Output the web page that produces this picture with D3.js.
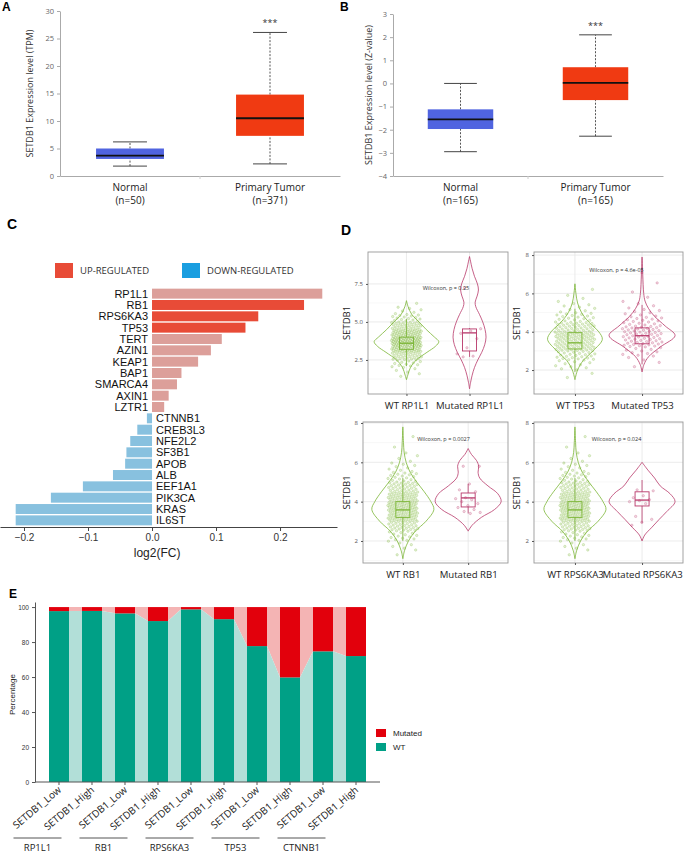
<!DOCTYPE html>
<html lang="en">
<head>
<meta charset="UTF-8">
<title>SETDB1 figure</title>
<script src="https://cdn.jsdelivr.net/npm/d3@7"></script>
<style>
  body { margin: 0; background: #fff; }
  svg text { font-family: "Open Sans", sans-serif; }
</style>
</head>
<body>
<div id="chart"></div>
<script>
  // ---------- data ----------
  // A / B : box plots, stats are [min, q1, median, q3, max]
  const BOX_GROUPS = ['Normal', 'Primary Tumor'];
  const A_COUNTS = ['(n=50)', '(n=371)'];
  const A_STATS = [[1.8, 3.1, 3.7, 5.0, 6.2], [2.2, 7.3, 10.5, 14.8, 26.1]];
  const B_COUNTS = ['(n=165)', '(n=165)'];
  const B_STATS = [[-2.95, -1.97, -1.55, -1.12, 0.0], [-2.28, -0.72, 0.02, 0.70, 2.10]];

  // C : log2 fold change
  const GENES = ['RP1L1', 'RB1', 'RPS6KA3', 'TP53', 'TERT', 'AZIN1', 'KEAP1', 'BAP1', 'SMARCA4', 'AXIN1', 'LZTR1',
    'CTNNB1', 'CREB3L3', 'NFE2L2', 'SF3B1', 'APOB', 'ALB', 'EEF1A1', 'PIK3CA', 'KRAS', 'IL6ST'];
  const LOG2FC = [0.266, 0.2375, 0.166, 0.146, 0.109, 0.092, 0.072, 0.046, 0.039, 0.026, 0.019,
    -0.008, -0.023, -0.034, -0.040, -0.042, -0.061, -0.108, -0.158, -0.213, -0.213];
  const HIGHLIGHT = ['RB1', 'RPS6KA3', 'TP53'];

  // D : violins (profile = [value, relative density])
  const D_GENES = ['RP1L1', 'TP53', 'RB1', 'RPS6KA3'];
  const D_PVALUES = ['0.25', '4.6e-05', '0.0027', '0.024'];
  const D_N_WT = [230, 180, 230, 230];
  const D_N_MUT = [9, 100, 16, 12];
  const D_WT_PROFILES = [
    [[1.2, 0], [1.5, 0.04], [2.0, 0.12], [2.5, 0.3], [3.0, 0.62], [3.4, 0.88], [3.7, 0.98], [4.0, 0.85], [4.5, 0.6], [5.0, 0.38], [5.5, 0.16], [6.0, 0.05], [6.4, 0]],
    [[1.5, 0], [2.0, 0.08], [2.5, 0.25], [3.0, 0.55], [3.6, 0.83], [4.0, 0.72], [4.5, 0.42], [5.0, 0.2], [5.5, 0.08], [6.0, 0.03], [6.5, 0]],
    [[1.1, 0], [1.5, 0.05], [2.0, 0.17], [2.5, 0.38], [3.0, 0.7], [3.6, 0.94], [4.0, 0.85], [4.5, 0.65], [5.0, 0.42], [5.5, 0.22], [6.0, 0.1], [6.5, 0.04], [7.0, 0.02], [7.8, 0]],
    [[1.1, 0], [1.5, 0.05], [2.0, 0.17], [2.5, 0.38], [3.0, 0.7], [3.6, 0.94], [4.0, 0.85], [4.5, 0.65], [5.0, 0.42], [5.5, 0.22], [6.0, 0.1], [6.5, 0.04], [7.0, 0.02], [7.8, 0]]
  ];
  const D_MUT_PROFILES = [
    [[0.6, 0], [1.0, 0.03], [1.5, 0.08], [2.0, 0.15], [2.5, 0.25], [3.0, 0.37], [3.5, 0.46], [4.0, 0.5], [4.5, 0.47], [5.0, 0.4], [5.5, 0.3], [6.0, 0.19], [6.3, 0.17], [6.7, 0.23], [7.1, 0.27], [7.5, 0.24], [8.0, 0.15], [8.5, 0.08], [9.0, 0.03], [9.3, 0]],
    [[1.9, 0], [2.3, 0.06], [2.7, 0.2], [3.2, 0.55], [3.8, 1.0], [4.3, 0.7], [4.8, 0.38], [5.2, 0.2], [5.6, 0.09], [6.0, 0.05], [7.0, 0.02], [7.9, 0]],
    [[2.5, 0], [2.8, 0.12], [3.2, 0.4], [3.6, 0.8], [4.0, 1.0], [4.4, 0.9], [4.8, 0.6], [5.2, 0.35], [5.5, 0.3], [5.8, 0.32], [6.1, 0.25], [6.4, 0.1], [6.7, 0]],
    [[2.0, 0], [2.3, 0.08], [2.7, 0.3], [3.1, 0.52], [3.5, 0.75], [4.0, 1.0], [4.4, 0.85], [4.8, 0.55], [5.2, 0.38], [5.6, 0.18], [6.0, 0]]
  ];
  const D_MUT_POINTS = [
    [7.25, 4.55, 4.4, 4.25, 3.9, 3.3, 2.9, 2.75, 2.7],
    null,
    [5.8, 5.8, 4.9, 4.6, 4.5, 4.2, 4.15, 4.1, 4.0, 3.9, 3.8, 3.7, 3.6, 3.5, 3.45, 3.4],
    [4.6, 4.55, 4.3, 4.2, 4.1, 4.05, 4.0, 3.9, 3.25, 3.1, 2.95, 2.8]
  ];
  const D_WT_BOX = [[2.1, 3.2, 3.6, 4.0, 5.2], [1.9, 3.1, 3.42, 3.95, 5.2], [2.0, 3.2, 3.58, 4.0, 5.2], [2.0, 3.2, 3.58, 4.0, 5.2]];
  const D_MUT_BOX = [[2.7, 3.09, 4.28, 4.54, 4.6], [2.3, 3.37, 3.79, 4.2, 5.4], [3.4, 3.73, 4.19, 4.44, 4.9], [2.9, 3.78, 4.08, 4.5, 5.1]];
  const D_LABEL_Y = 7.2;

  // E : percentage WT per gene / SETDB1 level
  const E_GENES = ['RP1L1', 'RB1', 'RPS6KA3', 'TP53', 'CTNNB1'];
  const E_LEVELS = ['SETDB1_Low', 'SETDB1_High'];
  const E_WT = [97.7, 97.8, 96.4, 92.0, 98.7, 93.1, 77.7, 59.8, 74.7, 72.0];

  // ---------- svg ----------
  const svg = d3.select('#chart').append('svg')
    .attr('width', 685).attr('height', 853);

  function panelLabel(txt, x, y, size) {
    svg.append('text').attr('x', x).attr('y', y).text(txt)
      .style('font-family', 'Liberation Sans, Arial').style('font-weight', 'bold').style('font-size', size + 'px');
  }

  // ---------- A & B ----------
  function boxPanel(o) {
    const g = svg.append('g');
    const y = d3.scaleLinear().domain(o.domain).range([o.bottom, o.top]);
    const x = d3.scaleBand().domain(BOX_GROUPS).range([o.left, o.right]);
    const bw = x.bandwidth() * 0.485;

    const ya = g.append('g').attr('transform', 'translate(' + o.left + ',0)')
      .call(d3.axisLeft(y).tickValues(o.ticks).tickFormat(d3.format('d')).tickSize(3).tickSizeOuter(0));
    ya.select('.domain').attr('stroke', '#aaa');
    ya.selectAll('.tick line').attr('stroke', '#aaa');
    ya.selectAll('text').style('font-size', '7.5px').attr('fill', '#666');

    const xa = g.append('g').attr('transform', 'translate(0,' + o.bottom + ')')
      .call(d3.axisBottom(x).tickSize(0).tickFormat(''));
    xa.select('.domain').attr('stroke', '#aaa');
    g.append('line').attr('x1', x('Primary Tumor')).attr('x2', x('Primary Tumor'))
      .attr('y1', o.bottom).attr('y2', o.bottom + 3).attr('stroke', '#ccc');

    g.append('text').attr('transform', 'translate(' + o.labelX + ',' + ((o.top + o.bottom) / 2) + ') rotate(-90)')
      .attr('text-anchor', 'middle').style('font-size', '9px').attr('fill', '#333').text(o.ylabel);

    BOX_GROUPS.forEach(function (grp, i) {
      const s = o.stats[i];
      const cx = x(grp) + x.bandwidth() / 2;
      const dash = '2,1.5';
      g.append('line').attr('x1', cx).attr('x2', cx).attr('y1', y(s[0])).attr('y2', y(s[1]))
        .attr('stroke', '#555').attr('stroke-dasharray', dash);
      g.append('line').attr('x1', cx).attr('x2', cx).attr('y1', y(s[3])).attr('y2', y(s[4]))
        .attr('stroke', '#555').attr('stroke-dasharray', dash);
      [s[0], s[4]].forEach(function (v) {
        g.append('line').attr('x1', cx - bw / 4).attr('x2', cx + bw / 4).attr('y1', y(v)).attr('y2', y(v))
          .attr('stroke', '#444').attr('stroke-width', 1);
      });
      g.append('rect').attr('x', cx - bw / 2).attr('width', bw)
        .attr('y', y(s[3])).attr('height', y(s[1]) - y(s[3]))
        .attr('fill', o.colors[i]);
      g.append('line').attr('x1', cx - bw / 2).attr('x2', cx + bw / 2).attr('y1', y(s[2])).attr('y2', y(s[2]))
        .attr('stroke', '#111').attr('stroke-width', 1.8);
      g.append('text').attr('x', cx).attr('y', o.bottom + 15).attr('text-anchor', 'middle')
        .style('font-size', '10px').attr('fill', '#222').text(grp);
      g.append('text').attr('x', cx).attr('y', o.bottom + 28).attr('text-anchor', 'middle')
        .style('font-size', '10px').attr('fill', '#222').text(o.counts[i]);
    });
    const tx = x('Primary Tumor') + x.bandwidth() / 2;
    g.append('text').attr('x', tx).attr('y', y(o.stats[1][4]) - 6).attr('text-anchor', 'middle')
      .style('font-size', '9px').attr('fill', '#333').text('***');
  }

  boxPanel({left: 60, right: 340, top: 11, bottom: 176, domain: [0, 30], ticks: d3.range(0, 31, 5),
    stats: A_STATS, counts: A_COUNTS, colors: ['#5064e0', '#f03a12'],
    ylabel: 'SETDB1 Expression level (TPM)', labelX: 33});
  boxPanel({left: 393, right: 663, top: 14, bottom: 176, domain: [-4, 3], ticks: d3.range(-4, 4, 1),
    stats: B_STATS, counts: B_COUNTS, colors: ['#5064e0', '#f03a12'],
    ylabel: 'SETDB1 Expression level (Z-value)', labelX: 372});
  panelLabel('A', 2, 11, 12);
  panelLabel('B', 340, 11, 12);

  // ---------- C ----------
  (function () {
    const g = svg.append('g');
    const x = d3.scaleLinear().domain([-0.2375, 0.289]).range([0, 337]);
    const y = d3.scaleBand().domain(GENES).range([287.3, 526.7]).padding(0.12);
    const colorOf = function (d, i) {
      if (LOG2FC[i] < 0) return '#88c1df';
      return HIGHLIGHT.indexOf(d) >= 0 ? '#e84b37' : '#dc9f9a';
    };

    g.selectAll('rect.bar').data(GENES).enter().append('rect')
      .attr('class', 'bar')
      .attr('x', function (d, i) { return x(Math.min(0, LOG2FC[i])); })
      .attr('width', function (d, i) { return Math.abs(x(LOG2FC[i]) - x(0)); })
      .attr('y', function (d) { return y(d); })
      .attr('height', y.bandwidth())
      .attr('fill', colorOf);

    g.selectAll('text.gene').data(GENES).enter().append('text')
      .attr('class', 'gene')
      .attr('x', function (d, i) { return LOG2FC[i] >= 0 ? x(0) - 4 : x(0) + 4; })
      .attr('y', function (d) { return y(d) + y.bandwidth() / 2; })
      .attr('dy', '0.36em')
      .attr('text-anchor', function (d, i) { return LOG2FC[i] >= 0 ? 'end' : 'start'; })
      .style('font-family', 'Liberation Sans, Arial').style('font-size', '11px').attr('fill', '#111')
      .text(function (d) { return d; });

    const ax = g.append('g').attr('transform', 'translate(0,527)')
      .call(d3.axisBottom(x).tickValues([-0.2, -0.1, 0, 0.1, 0.2]).tickFormat(d3.format('.1f')).tickSize(4).tickSizeOuter(0));
    ax.select('.domain').attr('stroke', '#444');
    ax.selectAll('.tick line').attr('stroke', '#444');
    ax.selectAll('text').style('font-family', 'Liberation Sans, Arial').style('font-size', '10px').attr('fill', '#333');
    g.append('text').attr('x', x(0.008)).attr('y', 557).attr('text-anchor', 'middle')
      .style('font-family', 'Liberation Sans, Arial').style('font-size', '12px').attr('fill', '#222').text('log2(FC)');

    // legend
    const leg = [['UP-REGULATED', '#e84b37', 55], ['DOWN-REGULATED', '#1a9ee0', 182]];
    leg.forEach(function (l) {
      g.append('rect').attr('x', l[2]).attr('y', 263).attr('width', 18).attr('height', 15).attr('fill', l[1]);
      g.append('text').attr('x', l[2] + 25).attr('y', 274).style('font-size', '9.5px').attr('fill', '#333').text(l[0]);
    });
  })();
  panelLabel('C', 7, 229, 14);

  // ---------- D ----------
  // spread n points over a density profile by its quantiles
  function quantiles(profile, n) {
    const cum = [0];
    for (let i = 1; i < profile.length; i++) {
      const a = profile[i - 1], b = profile[i];
      cum.push(cum[i - 1] + (b[0] - a[0]) * (a[1] + b[1]) / 2);
    }
    const total = cum[cum.length - 1];
    const out = [];
    for (let k = 0; k < n; k++) {
      const t = (k + 0.5) / n * total;
      let i = Math.max(1, d3.bisectLeft(cum, t));
      const f = (t - cum[i - 1]) / ((cum[i] - cum[i - 1]) || 1);
      out.push(profile[i - 1][0] + f * (profile[i][0] - profile[i - 1][0]));
    }
    return out;
  }

  const D_LAYOUT = [
    {x0: 368, x1: 508, y0: 252, y1: 394, dom: [0.26, 9.6], ticks: [2.5, 5, 7.5], fmt: '.1f', lx: 350},
    {x0: 534, x1: 683, y0: 252, y1: 394, dom: [0.75, 8.16], ticks: [2, 4, 6, 8], fmt: 'd', lx: 520},
    {x0: 363, x1: 508, y0: 422, y1: 563, dom: [0.88, 8.05], ticks: [2, 4, 6, 8], fmt: 'd', lx: 350},
    {x0: 534, x1: 683, y0: 422, y1: 563, dom: [0.88, 8.05], ticks: [2, 4, 6, 8], fmt: 'd', lx: 520}
  ];
  const WT_COL = '#7ab534', MUT_COL = '#b8386a';
  const dens = d3.scaleLinear().domain([0, 1]).range([0, 33]);

  D_GENES.forEach(function (gene, p) {
    const L = D_LAYOUT[p];
    const g = svg.append('g');
    const y = d3.scaleLinear().domain(L.dom).range([L.y1, L.y0]);
    const cats = ['WT ' + gene, 'Mutated ' + gene];
    const x = d3.scalePoint().domain(cats).range([L.x0, L.x1]).padding(0.61);

    // grid
    const minor = [];
    for (let i = 0; i < L.ticks.length - 1; i++) minor.push((L.ticks[i] + L.ticks[i + 1]) / 2);
    minor.push(L.ticks[0] - (L.ticks[1] - L.ticks[0]) / 2);
    g.selectAll('line.minor').data(minor.filter(function (v) { return v > L.dom[0] && v < L.dom[1]; }))
      .enter().append('line').attr('x1', L.x0).attr('x2', L.x1)
      .attr('y1', y).attr('y2', y).attr('stroke', '#f2f2f2').attr('stroke-width', 0.6);
    g.selectAll('line.major').data(L.ticks).enter().append('line').attr('x1', L.x0).attr('x2', L.x1)
      .attr('y1', y).attr('y2', y).attr('stroke', '#e6e6e6').attr('stroke-width', 0.8);
    g.selectAll('line.vx').data(cats).enter().append('line').attr('x1', x).attr('x2', x)
      .attr('y1', L.y0).attr('y2', L.y1).attr('stroke', '#e6e6e6').attr('stroke-width', 0.8);

    const groups = [
      {cx: x(cats[0]), prof: D_WT_PROFILES[p], col: WT_COL, box: D_WT_BOX[p],
        pts: quantiles(D_WT_PROFILES[p], D_N_WT[p]), jit: p === 1 ? 20 : 15},
      {cx: x(cats[1]), prof: D_MUT_PROFILES[p], col: MUT_COL, box: D_MUT_BOX[p],
        pts: D_MUT_POINTS[p] || quantiles(D_MUT_PROFILES[p], D_N_MUT[p]), jit: p === 1 ? 20 : 13}
    ];

    groups.forEach(function (gr) {
      const area = d3.area()
        .y(function (d) { return y(d[0]); })
        .x0(function (d) { return gr.cx - dens(d[1]); })
        .x1(function (d) { return gr.cx + dens(d[1]); })
        .curve(d3.curveCatmullRom);
      g.append('path').datum(gr.prof).attr('d', area)
        .attr('fill', 'none').attr('stroke', gr.col).attr('stroke-width', 0.8);

      g.selectAll(null).data(gr.pts).enter().append('circle')
        .attr('cx', function (d, k) { return gr.cx + (((k * 0.618034 + 0.31) % 1) - 0.5) * 2 * gr.jit; })
        .attr('cy', function (d) { return y(d); })
        .attr('r', 1.2)
        .attr('fill', gr.col).attr('fill-opacity', 0.2)
        .attr('stroke', gr.col).attr('stroke-opacity', 0.55).attr('stroke-width', 0.45);

      const b = gr.box, bw = 14;
      g.append('line').attr('x1', gr.cx).attr('x2', gr.cx).attr('y1', y(b[0])).attr('y2', y(b[1]))
        .attr('stroke', gr.col).attr('stroke-width', 0.8);
      g.append('line').attr('x1', gr.cx).attr('x2', gr.cx).attr('y1', y(b[3])).attr('y2', y(b[4]))
        .attr('stroke', gr.col).attr('stroke-width', 0.8);
      g.append('rect').attr('x', gr.cx - bw / 2).attr('width', bw).attr('y', y(b[3])).attr('height', y(b[1]) - y(b[3]))
        .attr('fill', 'none').attr('stroke', gr.col).attr('stroke-width', 0.9);
      g.append('line').attr('x1', gr.cx - bw / 2).attr('x2', gr.cx + bw / 2).attr('y1', y(b[2])).attr('y2', y(b[2]))
        .attr('stroke', gr.col).attr('stroke-width', 1.3);
    });

    // border
    g.append('rect').attr('x', L.x0).attr('y', L.y0).attr('width', L.x1 - L.x0).attr('height', L.y1 - L.y0)
      .attr('fill', 'none').attr('stroke', '#999').attr('stroke-width', 0.9);

    const ya = g.append('g').attr('transform', 'translate(' + L.x0 + ',0)')
      .call(d3.axisLeft(y).tickValues(L.ticks).tickFormat(d3.format(L.fmt)).tickSize(2).tickSizeOuter(0));
    ya.select('.domain').remove();
    ya.selectAll('.tick line').attr('stroke', '#555');
    ya.selectAll('text').style('font-size', '6px').attr('fill', '#555');

    const xa = g.append('g').attr('transform', 'translate(0,' + L.y1 + ')')
      .call(d3.axisBottom(x).tickSize(2).tickSizeOuter(0).tickPadding(6));
    xa.select('.domain').remove();
    xa.selectAll('.tick line').attr('stroke', '#555');
    xa.selectAll('text').style('font-size', '9.6px').attr('fill', '#222');

    g.append('text').attr('transform', 'translate(' + L.lx + ',' + ((L.y0 + L.y1) / 2) + ') rotate(-90)')
      .attr('text-anchor', 'middle').style('font-size', '9.5px').attr('fill', '#222').text('SETDB1');

    g.append('text').attr('x', (x(cats[0]) + x(cats[1])) / 2 + 8).attr('y', y(D_LABEL_Y)).attr('dy', '0.35em')
      .attr('text-anchor', 'middle').style('font-size', '5.5px').attr('fill', '#333')
      .text('Wilcoxon, p = ' + D_PVALUES[p]);
  });
  panelLabel('D', 341, 235, 14);

  // ---------- E ----------
  (function () {
    const g = svg.append('g');
    const idx = d3.range(E_WT.length);
    const x = d3.scaleBand().domain(idx).range([42.4, 372.6]).paddingInner(0.394).paddingOuter(0.2);
    const y = d3.scaleLinear().domain([0, 102.9]).range([782, 602]);
    const bw = x.bandwidth();
    const WT_C = '#00a086', MUT_C = '#e2000c', WT_L = '#b2dfd8', MUT_L = '#f4b4b4';

    // connecting bands between bars
    for (let i = 0; i < idx.length - 1; i++) {
      const xa = x(i) + bw, xb = x(i + 1);
      g.append('path').attr('d', d3.line()([[xa, y(100)], [xb, y(100)], [xb, y(E_WT[i + 1])], [xa, y(E_WT[i])]]))
        .attr('fill', MUT_L);
      g.append('path').attr('d', d3.line()([[xa, y(E_WT[i])], [xb, y(E_WT[i + 1])], [xb, y(0)], [xa, y(0)]]))
        .attr('fill', WT_L);
    }
    g.selectAll('rect.wt').data(idx).enter().append('rect')
      .attr('x', function (i) { return x(i); }).attr('width', bw)
      .attr('y', function (i) { return y(E_WT[i]); })
      .attr('height', function (i) { return y(0) - y(E_WT[i]); })
      .attr('fill', WT_C);
    g.selectAll('rect.mut').data(idx).enter().append('rect')
      .attr('x', function (i) { return x(i); }).attr('width', bw)
      .attr('y', y(100))
      .attr('height', function (i) { return y(E_WT[i]) - y(100); })
      .attr('fill', MUT_C);

    const ya = g.append('g').attr('transform', 'translate(35,0)')
      .call(d3.axisLeft(y).tickValues(d3.range(0, 101, 20)).tickSize(3).tickSizeOuter(0));
    ya.select('.domain').attr('stroke', '#555');
    ya.selectAll('.tick line').attr('stroke', '#555');
    ya.selectAll('text').style('font-family', 'Liberation Sans, Arial').style('font-size', '6.5px').attr('fill', '#333');
    g.append('line').attr('x1', 35).attr('x2', 380).attr('y1', y(0)).attr('y2', y(0)).attr('stroke', '#555');
    g.selectAll('line.xt').data(idx).enter().append('line')
      .attr('x1', function (i) { return x(i) + bw / 2; }).attr('x2', function (i) { return x(i) + bw / 2; })
      .attr('y1', y(0)).attr('y2', y(0) + 3).attr('stroke', '#555');

    g.append('text').attr('transform', 'translate(15,' + y(50) + ') rotate(-90)')
      .attr('text-anchor', 'middle').style('font-family', 'Liberation Sans, Arial').style('font-size', '8px')
      .attr('fill', '#222').text('Percentage');

    g.selectAll('text.lvl').data(idx).enter().append('text')
      .attr('transform', function (i) { return 'translate(' + (x(i) + bw / 2 + 3) + ',791) rotate(-40)'; })
      .attr('text-anchor', 'end').style('font-size', '10px').attr('fill', '#222')
      .text(function (i) { return E_LEVELS[i % 2]; });

    E_GENES.forEach(function (gene, k) {
      const pc = (x(2 * k) + x(2 * k + 1) + bw) / 2;
      g.append('line').attr('x1', pc - 62).attr('x2', pc - 14).attr('y1', 838).attr('y2', 838)
        .attr('stroke', '#555').attr('stroke-width', 1);
      g.append('text').attr('x', pc - 38).attr('y', 851).attr('text-anchor', 'middle')
        .style('font-size', '9.5px').attr('fill', '#222').text(gene);
    });

    [['Mutated', MUT_C, 729], ['WT', WT_C, 743]].forEach(function (l) {
      g.append('rect').attr('x', 376).attr('y', l[2]).attr('width', 10).attr('height', 8).attr('fill', l[1]);
      g.append('text').attr('x', 393).attr('y', l[2] + 7).style('font-family', 'Liberation Sans, Arial')
        .style('font-size', '8px').attr('fill', '#222').text(l[0]);
    });
  })();
  panelLabel('E', 9, 598, 12);
</script>
</body>
</html>
